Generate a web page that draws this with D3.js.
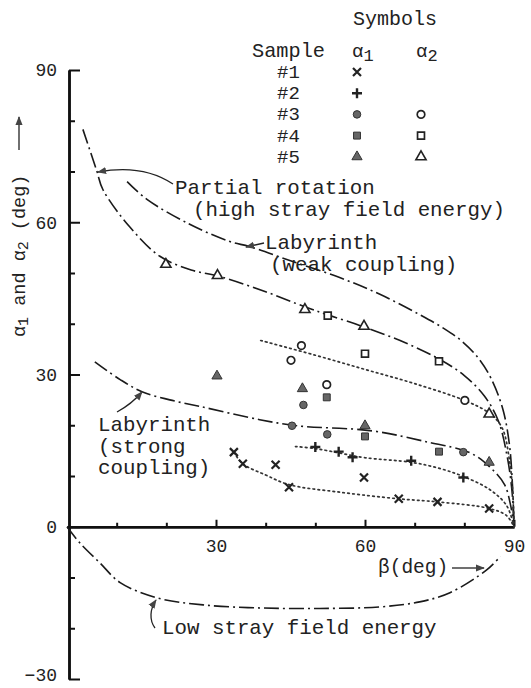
<!DOCTYPE html>
<html lang="en">
<head>
<meta charset="UTF-8"/>
<title>alpha1 and alpha2 vs beta</title>
<script src="https://cdn.jsdelivr.net/npm/d3@7"></script>
<style>
  body { margin: 0; background: #fff; }
  svg { display: block; background: #fff; }
  text { font-family: 'Liberation Mono', 'DejaVu Sans Mono', monospace; fill: #222; }
  .axis path, .axis line { stroke: #111; }
  .axis path { stroke-width: 2.5; }
  .axis line { stroke-width: 2; }
  .axis text { font-size: 18px; fill: #222; font-family: 'Liberation Mono', monospace; }
  .note { font-size: 20.8px; }
  .curve { fill: none; stroke: #1a1a1a; stroke-width: 1.6; stroke-dasharray: 15 4 2 4; }
  .fit { fill: none; stroke: #333; stroke-width: 1.7; stroke-dasharray: 1.6 3.4; stroke-linecap: round; }
  .pointer { fill: none; stroke: #222; stroke-width: 1.3; }
</style>
</head>
<body>
<svg width="531" height="688"></svg>
<script>
// measured points, [beta, alpha] in degrees
const s1Alpha1 = [[33.6,14.7],[35.4,12.4],[42.0,12.2],[44.7,7.8],[59.8,9.7],[66.8,5.5],[74.6,4.9],[85.0,3.6]];
const s2Alpha1 = [[50.0,15.7],[54.7,14.8],[57.5,13.7],[69.3,13.0],[79.8,9.7]];
const s3Alpha1 = [[47.6,24.0],[45.3,19.9],[52.4,18.2],[79.8,14.7]];
const s4Alpha1 = [[52.3,25.5],[60.0,17.8],[74.9,14.8]];
const s5Alpha1 = [[30.2,29.7],[47.4,27.2],[60.0,19.9],[85.0,12.7]];
const s3Alpha2 = [[47.2,35.7],[45.1,32.8],[52.3,28.0],[80.1,24.9]];
const s4Alpha2 = [[52.5,41.6],[60.0,34.1],[74.9,32.6]];
const s5Alpha2 = [[19.9,51.7],[30.3,49.5],[47.9,42.8],[59.8,39.5],[85.0,22.2]];

// model curves (dash-dot)
const curvePartial = [[3.2,78.3],[6.0,70.1],[7.2,66.5],[12.7,59.0],[18.7,53.3],[25,50.6],[30.8,49.3],[40,46.3],[48,43.3],[53,41.6],[60,39.3],[68,36.3],[75,33.0],[80,29.8],[84,25.8],[86.8,21],[88.6,14],[89.6,7],[90,0]];
const curveWeak = [[12.1,68.0],[16.1,64.5],[24.7,59.6],[32.8,56.2],[36.8,55.2],[45,52.4],[54.9,49.1],[63,45.8],[71.0,41.8],[76,39],[79.7,36.4],[83,33],[85.5,29],[87.8,23],[89.1,16],[89.7,8],[90,0]];
const curveStrong = [[5.6,32.5],[10.7,29.0],[15.1,26.6],[20.7,25.0],[26.8,23.7],[38.8,21.1],[46.3,19.9],[61.4,18.9],[73.0,16.6],[81.1,14.6],[85.1,11.8],[88.1,8.3],[89.3,4.3],[90,0]];
const curveLow = [[0,0],[2.6,-3.2],[6.6,-7.1],[10.7,-11.0],[18.1,-14.0],[27.4,-15.4],[38.8,-16.0],[50.9,-16.1],[63.0,-15.8],[71.0,-14.8],[77.1,-13.0],[84.5,-8.5],[87.3,-5.8]];

// dotted fits through samples
const fitS1 = [[33.6,14.7],[35.4,12.4],[40,10.2],[44.7,8.3],[55,6.8],[66.8,5.5],[74.6,4.9],[85.0,3.6],[88.5,2.2],[90,0]];
const fitS2 = [[46,15.8],[50,15.4],[55,14.5],[60,13.6],[69.3,12.7],[75,11.5],[79.8,9.9],[85,7.4],[88.5,4.2],[90,0]];
const fitS3a2 = [[39,36.7],[50,33.8],[60,31.0],[70,28.2],[80,24.9],[85,22.4],[87.6,19.5],[89.1,13],[89.8,6],[90,0]];

// ticks
const xTicksMajor = [30, 60, 90];
const xTicksMinor = [10, 20, 40, 50, 70, 80];
const yTicksMajor = [-30, 0, 30, 60, 90];
const yTicksMinor = [-20, -10, 10, 20, 40, 50, 70, 80];

const legendRows = ['#1', '#2', '#3', '#4', '#5'];

const svg = d3.select('svg');

const x = d3.scaleLinear().domain([0, 90]).range([67, 514]);
const y = d3.scaleLinear().domain([-30, 90]).range([679, 70]);

svg.append('defs').append('marker')
  .attr('id', 'head')
  .attr('viewBox', '0 0 10 10')
  .attr('refX', 9).attr('refY', 5)
  .attr('markerWidth', 9).attr('markerHeight', 9)
  .attr('markerUnits', 'userSpaceOnUse')
  .attr('orient', 'auto')
  .append('path')
  .attr('d', 'M0,1 L10,5 L0,9 Z')
  .attr('fill', '#444');

// y axis (ticks point into the plot, labels to the left)
const yAxisG = svg.append('g').attr('class', 'axis')
  .attr('transform', `translate(${x(0) + 2},0)`)
  .call(d3.axisLeft(y).tickValues(yTicksMajor).tickSizeInner(-11).tickSizeOuter(0).tickPadding(12));
// keep the bottom label inside the frame
yAxisG.selectAll('.tick text').filter(d => d === -30).attr('dy', '0.1em');
svg.append('g').attr('class', 'axis')
  .attr('transform', `translate(${x(0) + 2},0)`)
  .call(d3.axisLeft(y).tickValues(yTicksMinor).tickSizeInner(-6).tickSizeOuter(0).tickFormat(''));

// x axis at alpha = 0, ticks pointing up
svg.append('g').attr('class', 'axis')
  .attr('transform', `translate(0,${y(0)})`)
  .call(d3.axisBottom(x).tickValues(xTicksMajor).tickSizeInner(-7).tickSizeOuter(0).tickPadding(12));
svg.append('g').attr('class', 'axis')
  .attr('transform', `translate(0,${y(0)})`)
  .call(d3.axisBottom(x).tickValues(xTicksMinor).tickSizeInner(-4).tickSizeOuter(0).tickFormat(''));

// curves
const line = d3.line().x(d => x(d[0])).y(d => y(d[1])).curve(d3.curveCatmullRom.alpha(0.5));

[curvePartial, curveWeak, curveStrong, curveLow].forEach(c => {
  svg.append('path').attr('class', 'curve').attr('d', line(c));
});
[fitS1, fitS2, fitS3a2].forEach(c => {
  svg.append('path').attr('class', 'fit').attr('d', line(c));
});

// symbols
const crossPath = 'M-4,-4L4,4M-4,4L4,-4';
const plusPath = 'M-5,0L5,0M0,-5L0,5';
const circ = d3.symbol(d3.symbolCircle).size(45)();
const sq = d3.symbol(d3.symbolSquare).size(48)();
const tri = d3.symbol(d3.symbolTriangle).size(45)();

const styles = {
  cross: { d: crossPath, fill: 'none', stroke: '#222', sw: 2.2 },
  plus: { d: plusPath, fill: 'none', stroke: '#222', sw: 2.4 },
  dot: { d: circ, fill: '#666', stroke: '#333', sw: 1 },
  box: { d: sq, fill: '#666', stroke: '#333', sw: 1 },
  tri: { d: tri, fill: '#666', stroke: '#333', sw: 1 },
  ring: { d: circ, fill: '#fff', stroke: '#222', sw: 1.7 },
  openBox: { d: sq, fill: '#fff', stroke: '#222', sw: 1.7 },
  openTri: { d: tri, fill: '#fff', stroke: '#222', sw: 1.6 }
};

function drawPoints(data, kind) {
  const s = styles[kind];
  svg.append('g').selectAll('path')
    .data(data)
    .join('path')
    .attr('transform', d => `translate(${x(d[0])},${y(d[1])})`)
    .attr('d', s.d)
    .attr('fill', s.fill)
    .attr('stroke', s.stroke)
    .attr('stroke-width', s.sw);
}

drawPoints(s1Alpha1, 'cross');
drawPoints(s2Alpha1, 'plus');
drawPoints(s3Alpha1, 'dot');
drawPoints(s4Alpha1, 'box');
drawPoints(s5Alpha1, 'tri');
drawPoints(s3Alpha2, 'ring');
drawPoints(s4Alpha2, 'openBox');
drawPoints(s5Alpha2, 'openTri');

// legend
svg.append('text').attr('x', 353).attr('y', 25).style('font-size', '20px').text('Symbols');
svg.append('text').attr('x', 252).attr('y', 57).style('font-size', '20.3px').text('Sample');
const a1 = svg.append('text').attr('x', 352).attr('y', 57).style('font-size', '19px');
a1.append('tspan').text('α');
a1.append('tspan').attr('dy', 4).style('font-size', '17px').text('1');
const a2 = svg.append('text').attr('x', 416).attr('y', 57).style('font-size', '19px');
a2.append('tspan').text('α');
a2.append('tspan').attr('dy', 4).style('font-size', '17px').text('2');

const legendKinds = [['cross', null], ['plus', null], ['dot', 'ring'], ['box', 'openBox'], ['tri', 'openTri']];
legendRows.forEach((lab, i) => {
  const by = 78 + i * 21.2;
  svg.append('text').attr('x', 277).attr('y', by).style('font-size', '19px').text(lab);
  const [k1, k2] = legendKinds[i];
  const s1 = styles[k1];
  svg.append('path').attr('transform', `translate(357,${by - 6})`)
    .attr('d', s1.d).attr('fill', s1.fill).attr('stroke', s1.stroke).attr('stroke-width', s1.sw);
  if (k2) {
    const s2 = styles[k2];
    svg.append('path').attr('transform', `translate(421,${by - 6})`)
      .attr('d', s2.d).attr('fill', s2.fill).attr('stroke', s2.stroke).attr('stroke-width', s2.sw);
  }
});

// annotations
function note(tx, ty, str) {
  svg.append('text').attr('class', 'note').attr('x', tx).attr('y', ty).text(str);
}
note(175, 194, 'Partial rotation');
note(193, 216, '(high stray field energy)');
note(265, 249, 'Labyrinth');
note(270, 271, '(weak coupling)');
note(98, 431, 'Labyrinth');
note(98, 453, '(strong');
note(98, 474, 'coupling)');
note(162, 634, 'Low stray field energy');

svg.append('path').attr('class', 'pointer').attr('d', 'M173,184 C155,172 130,166 98,172').attr('marker-end', 'url(#head)');
svg.append('path').attr('class', 'pointer').attr('d', 'M264,243 L246,247').attr('marker-end', 'url(#head)');
svg.append('path').attr('class', 'pointer').attr('d', 'M117,412 C128,406 136,399 142,392').attr('marker-end', 'url(#head)');
svg.append('path').attr('class', 'pointer').attr('d', 'M155,628 C149,620 150,609 156,600').attr('marker-end', 'url(#head)');

// beta axis title
const bt = svg.append('text').attr('x', 378).attr('y', 573).style('font-size', '19.5px');
bt.append('tspan').text('β');
bt.append('tspan').text('(deg)');
svg.append('path').attr('class', 'pointer').attr('stroke-width', 1.6).attr('d', 'M452,568 L484,568').attr('marker-end', 'url(#head)');

// alpha axis title (rotated)
const yt = svg.append('text')
  .attr('transform', 'translate(25,337) rotate(-90)')
  .style('font-size', '18.5px');
yt.append('tspan').text('α');
yt.append('tspan').attr('dy', 3).style('font-size', '15px').text('1');
yt.append('tspan').attr('dy', -3).text(' and α');
yt.append('tspan').attr('dy', 3).style('font-size', '15px').text('2');
yt.append('tspan').attr('dy', -3).text(' (deg)');
svg.append('path').attr('class', 'pointer').attr('stroke-width', 1.6).attr('d', 'M19,150 L19,117').attr('marker-end', 'url(#head)');
</script>
</body>
</html>
